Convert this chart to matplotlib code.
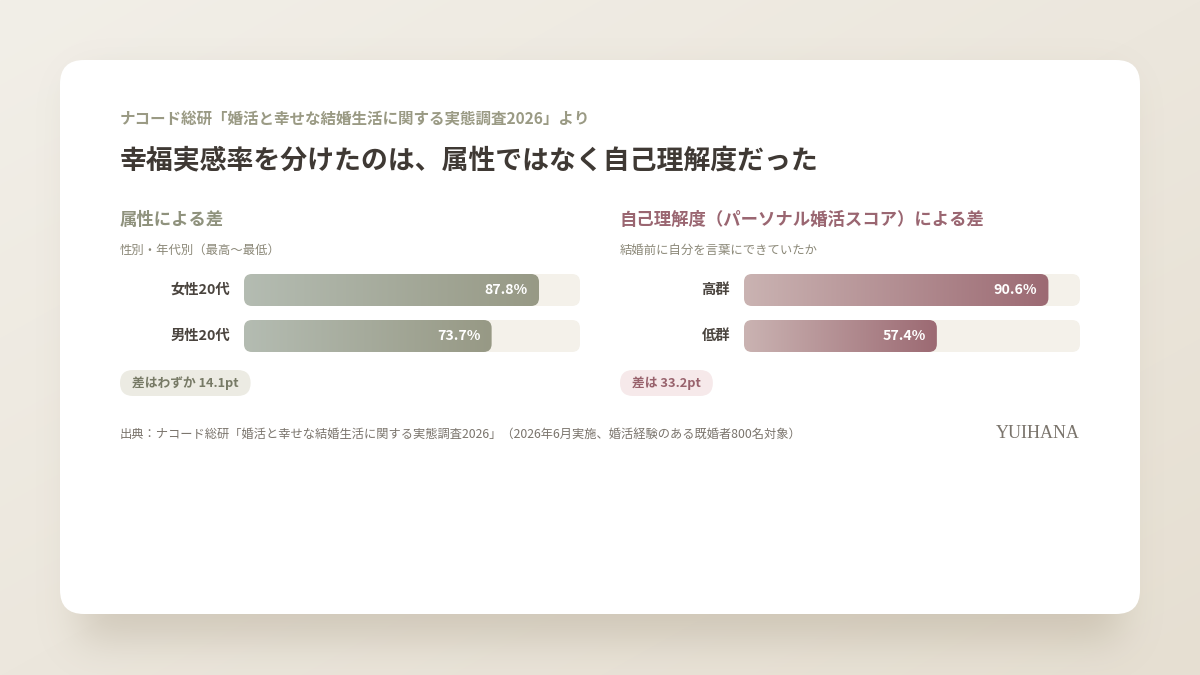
import numpy as np
import matplotlib.pyplot as plt
from matplotlib.patches import FancyBboxPatch
from matplotlib.colors import LinearSegmentedColormap

plt.rcParams['font.family'] = ['Noto Sans CJK JP', 'DejaVu Sans']

# data
left_labels = ['女性20代', '男性20代']
left_values = [87.8, 73.7]
right_labels = ['高群', '低群']
right_values = [90.6, 57.4]

source_line = 'ナコード総研「婚活と幸せな結婚生活に関する実態調査2026」より'
title = '幸福実感率を分けたのは、属性ではなく自己理解度だった'
left_head = '属性による差'
left_sub = '性別・年代別（最高〜最低）'
right_head = '自己理解度（パーソナル婚活スコア）による差'
right_sub = '結婚前に自分を言葉にできていたか'
footer = '出典：ナコード総研「婚活と幸せな結婚生活に関する実態調査2026」（2026年6月実施、婚活経験のある既婚者800名対象）'

W, H = 1200, 675
fig = plt.figure(figsize=(12, 6.75), dpi=100)
bg = fig.add_axes([0, 0, 1, 1])
bg.set_xlim(0, W)
bg.set_ylim(H, 0)
bg.axis('off')

# page background gradient
yy, xx = np.mgrid[0:H, 0:W]
t = (xx / W * 0.5 + yy / H * 0.5)
c0 = np.array([0xf2, 0xef, 0xe8]) / 255
c1 = np.array([0xe6, 0xdf, 0xd2]) / 255
img = c0[None, None, :] * (1 - t[..., None]) + c1[None, None, :] * t[..., None]
bg.imshow(img, extent=(0, W, H, 0), zorder=0, aspect='auto')

# soft shadow under card
mask = np.zeros((H, W))
mask[82:640, 80:1120] = 1.0
def blur(a, s):
    k = np.exp(-0.5 * (np.arange(-3 * s, 3 * s + 1) / s) ** 2)
    k /= k.sum()
    a = np.apply_along_axis(lambda r: np.convolve(r, k, mode='same'), 1, a)
    a = np.apply_along_axis(lambda c: np.convolve(c, k, mode='same'), 0, a)
    return a
sh = blur(mask, 20)
shadow = np.zeros((H, W, 4))
shadow[..., :3] = np.array([0x9a, 0x8c, 0x74]) / 255
shadow[..., 3] = sh * 0.32
bg.imshow(shadow, extent=(0, W, H, 0), zorder=1, aspect='auto')

card = FancyBboxPatch((60, 60), 1080, 554, boxstyle='round,pad=0,rounding_size=24',
                      fc='white', ec='none', zorder=2)
bg.add_patch(card)

# header texts
bg.text(120, 120, source_line, fontsize=11.2, fontweight='bold', color='#9a9a84',
        va='center', ha='left', zorder=3)
bg.text(120, 160, title, fontsize=19.4, fontweight='bold', color='#3f3934',
        va='center', ha='left', zorder=3)

track_col = '#f4f1ea'
panels = [
    dict(x0=120, labels=left_labels, values=left_values, head=left_head, sub=left_sub,
         head_col='#8f927d', cmap=['#b4bcb2', '#979985'],
         pill_bg='#ecebe3', pill_fg='#777a66', pill_fmt='差はわずか {:.1f}pt'),
    dict(x0=620, labels=right_labels, values=right_values, head=right_head, sub=right_sub,
         head_col='#9a6671', cmap=['#cab3b2', '#9c6a73'],
         pill_bg='#f6e9ea', pill_fg='#98626c', pill_fmt='差は {:.1f}pt'),
]

renderer = fig.canvas.get_renderer()
row_h = 32
row_gap = 46
track_w_px = 336
for p in panels:
    x0 = p['x0']
    bg.text(x0, 220, p['head'], fontsize=12.5, fontweight='bold', color=p['head_col'],
            va='center', ha='left', zorder=3)
    bg.text(x0, 250, p['sub'], fontsize=8.9, color='#8b8878',
            va='center', ha='left', zorder=3)
    for i, lab in enumerate(p['labels']):
        bg.text(x0 + 110, 290 + row_gap * i, lab, fontsize=10.3, fontweight='bold',
                color='#4a443e', va='center', ha='right', zorder=3)
    diff = p['values'][0] - p['values'][1]
    pt = bg.text(x0 + 12, 383, p['pill_fmt'].format(diff), fontsize=9.2, fontweight='bold',
                 color=p['pill_fg'], va='center', ha='left', zorder=4)
    tw = pt.get_window_extent(renderer).width
    pill = FancyBboxPatch((x0, 370), tw + 24, 26, boxstyle='round,pad=0,rounding_size=13',
                          fc=p['pill_bg'], ec='none', zorder=3)
    bg.add_patch(pill)

    # bar axes: x in percent, y in pixels
    ax = fig.add_axes([(x0 + 124) / W, 1 - 352 / H, track_w_px / W, 78 / H])
    ax.set_xlim(0, 100)
    ax.set_ylim(78, 0)
    ax.axis('off')
    ax.patch.set_alpha(0)
    asp = track_w_px / 100.0
    rs = 8 / asp
    cm = LinearSegmentedColormap.from_list('g', p['cmap'])
    grad = np.linspace(0, 1, 256)[None, :]
    for i, v in enumerate(p['values']):
        y = row_gap * i
        tr = FancyBboxPatch((0, y), 100, row_h, boxstyle=f'round,pad=0,rounding_size={rs}',
                            mutation_aspect=asp, fc=track_col, ec='none', zorder=1)
        ax.add_patch(tr)
        bar = FancyBboxPatch((0, y), v, row_h, boxstyle=f'round,pad=0,rounding_size={rs}',
                             mutation_aspect=asp, fc='none', ec='none', zorder=2)
        ax.add_patch(bar)
        im = ax.imshow(grad, cmap=cm, extent=(0, v, y + row_h, y), aspect='auto', zorder=2)
        im.set_clip_path(bar)
        ax.text(v - 11 / asp, y + row_h / 2, f'{v:.1f}%', fontsize=10.2, fontweight='bold',
                color='white', ha='right', va='center', zorder=3)
    ax.set_xlim(0, 100)
    ax.set_ylim(78, 0)

bg.text(120, 434, footer, fontsize=8.8, color='#7a746c', va='center', ha='left', zorder=3)
bg.text(1080, 434, 'YUIHANA', fontsize=13, color='#7a746c', va='center', ha='right',
        family='Liberation Serif', zorder=3)

fig.savefig('out.png', dpi=100)
